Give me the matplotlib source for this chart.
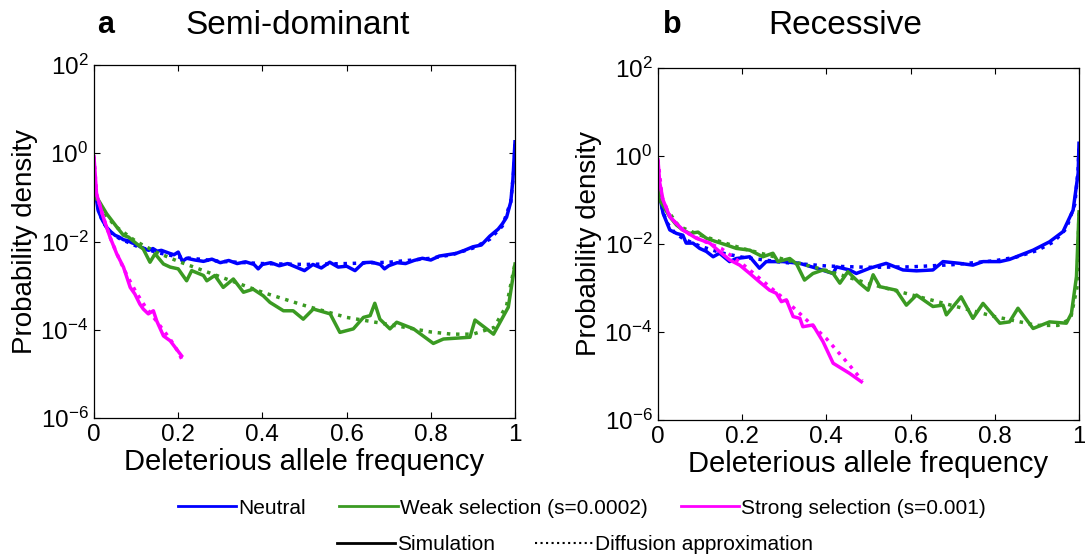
import numpy as np
import matplotlib.pyplot as plt

plt.rcParams['font.family'] = ['Liberation Sans', 'DejaVu Sans']
plt.rcParams['mathtext.fontset'] = 'custom'
plt.rcParams['mathtext.rm'] = 'Liberation Sans'
plt.rcParams['mathtext.it'] = 'Liberation Sans:italic'
plt.rcParams['mathtext.bf'] = 'Liberation Sans:bold'

# ---- data (log10 of probability density) ----
# panel a: semi-dominant
a_neu_x = [0, 0.005, 0.01, 0.02, 0.03, 0.04, 0.05, 0.06, 0.07, 0.08, 0.09, 0.10, 0.11, 0.12,
           0.13, 0.14, 0.15, 0.16, 0.18, 0.19, 0.20, 0.21, 0.22, 0.24, 0.26, 0.28, 0.30, 0.32,
           0.34, 0.36, 0.38, 0.39, 0.40, 0.42, 0.44, 0.46, 0.48, 0.50, 0.52, 0.54, 0.56, 0.58,
           0.60, 0.62, 0.64, 0.66, 0.68, 0.69, 0.70, 0.72, 0.74, 0.76, 0.78, 0.80, 0.82, 0.84,
           0.86, 0.88, 0.90, 0.92, 0.94, 0.96, 0.97, 0.98, 0.99, 0.995, 1.0]
a_neu_y = [-0.5, -1.0, -1.3, -1.52, -1.68, -1.78, -1.86, -1.9, -1.96, -1.98, -2.03, -2.06, -2.12,
           -2.17, -2.2, -2.16, -2.22, -2.2, -2.27, -2.3, -2.24, -2.45, -2.38, -2.42, -2.45, -2.4,
           -2.48, -2.43, -2.5, -2.46, -2.52, -2.62, -2.52, -2.48, -2.55, -2.5, -2.58, -2.66, -2.52,
           -2.6, -2.47, -2.58, -2.56, -2.66, -2.48, -2.47, -2.52, -2.62, -2.55, -2.48, -2.5, -2.43,
           -2.38, -2.42, -2.33, -2.3, -2.27, -2.2, -2.12, -2.08, -1.88, -1.72, -1.6, -1.45, -1.1,
           -0.6, 0.26]
a_neu_dx = [0.002, 0.01, 0.02, 0.04, 0.06, 0.1, 0.15, 0.2, 0.3, 0.4, 0.5, 0.6, 0.7, 0.8, 0.85,
            0.9, 0.94, 0.97, 0.99, 0.998, 1.0]
a_neu_dy = [-0.6, -1.25, -1.55, -1.8, -1.93, -2.1, -2.25, -2.35, -2.45, -2.5, -2.52, -2.5, -2.47,
            -2.38, -2.3, -2.15, -1.95, -1.65, -1.1, -0.3, 0.2]

a_weak_x = [0, 0.006, 0.03, 0.054, 0.07, 0.082, 0.101, 0.117, 0.133, 0.145, 0.165, 0.181, 0.2,
            0.22, 0.232, 0.26, 0.268, 0.287, 0.307, 0.331, 0.355, 0.378, 0.402, 0.418, 0.45,
            0.473, 0.497, 0.521, 0.561, 0.584, 0.616, 0.64, 0.656, 0.667, 0.679, 0.703, 0.719,
            0.759, 0.806, 0.83, 0.893, 0.905, 0.949, 0.984, 1.0]
a_weak_y = [-0.7, -0.99, -1.37, -1.67, -1.86, -1.9, -2.05, -2.17, -2.47, -2.28, -2.51, -2.58,
            -2.62, -2.89, -2.66, -2.77, -2.89, -2.77, -3.04, -2.85, -3.15, -3.08, -3.23, -3.38,
            -3.57, -3.57, -3.76, -3.53, -3.64, -4.06, -3.98, -3.72, -3.68, -3.4, -3.76, -3.98,
            -3.83, -3.98, -4.31, -4.21, -4.17, -3.78, -4.1, -3.49, -2.51]
a_weak_dx = [0.005, 0.02, 0.05, 0.1, 0.15, 0.2, 0.3, 0.4, 0.5, 0.6, 0.7, 0.8, 0.85, 0.9, 0.95,
             0.98, 1.0]
a_weak_dy = [-1.0, -1.3, -1.65, -2.0, -2.25, -2.45, -2.8, -3.15, -3.45, -3.72, -3.88, -4.05,
             -4.1, -4.1, -3.95, -3.45, -2.5]

a_str_x = [0, 0.006, 0.022, 0.038, 0.054, 0.07, 0.086, 0.097, 0.109, 0.117, 0.129, 0.141, 0.149,
           0.165, 0.181, 0.196, 0.208]
a_str_y = [-0.08, -0.92, -1.45, -1.9, -2.28, -2.58, -3.04, -3.19, -3.42, -3.53, -3.64, -3.57,
           -3.8, -4.14, -4.25, -4.44, -4.59]
a_str_dx = [0, 0.006, 0.022, 0.04, 0.06, 0.08, 0.1, 0.12, 0.14, 0.16, 0.18, 0.2, 0.21]
a_str_dy = [-0.08, -0.92, -1.45, -1.95, -2.4, -2.8, -3.15, -3.45, -3.7, -3.95, -4.2, -4.5, -4.7]

# panel b: recessive
b_neu_x = [0, 0.004, 0.012, 0.028, 0.044, 0.059, 0.067, 0.083, 0.099, 0.115, 0.131, 0.146, 0.17,
           0.186, 0.218, 0.241, 0.257, 0.297, 0.337, 0.376, 0.416, 0.424, 0.455, 0.471, 0.503,
           0.542, 0.582, 0.614, 0.653, 0.677, 0.717, 0.748, 0.772, 0.812, 0.835, 0.851, 0.891,
           0.93, 0.962, 0.986, 0.998, 1.0]
b_neu_y = [-0.32, -0.9, -1.3, -1.68, -1.76, -1.8, -1.98, -1.98, -2.1, -2.17, -2.29, -2.21, -2.4,
           -2.33, -2.29, -2.55, -2.4, -2.4, -2.44, -2.55, -2.67, -2.52, -2.59, -2.67, -2.55, -2.44,
           -2.59, -2.61, -2.59, -2.4, -2.44, -2.48, -2.4, -2.4, -2.35, -2.29, -2.14, -1.95, -1.72,
           -1.23, -0.39, 0.29]
b_neu_dx = [0.002, 0.01, 0.02, 0.04, 0.06, 0.1, 0.15, 0.2, 0.3, 0.4, 0.5, 0.6, 0.7, 0.8, 0.85,
            0.9, 0.94, 0.97, 0.99, 0.998, 1.0]
b_neu_dy = [-0.5, -1.2, -1.5, -1.75, -1.88, -2.05, -2.2, -2.3, -2.42, -2.5, -2.53, -2.52, -2.47,
            -2.38, -2.3, -2.15, -1.95, -1.65, -1.1, -0.3, 0.25]

b_weak_x = [0, 0.004, 0.028, 0.044, 0.059, 0.075, 0.095, 0.115, 0.139, 0.162, 0.186, 0.218,
            0.249, 0.273, 0.285, 0.313, 0.329, 0.348, 0.368, 0.392, 0.416, 0.432, 0.451, 0.479,
            0.499, 0.511, 0.527, 0.566, 0.59, 0.614, 0.653, 0.677, 0.685, 0.72, 0.748, 0.772,
            0.812, 0.835, 0.855, 0.891, 0.93, 0.97, 0.982, 0.994, 1.0]
b_weak_y = [-0.6, -1.0, -1.38, -1.57, -1.68, -1.76, -1.73, -1.87, -1.95, -2.02, -2.1, -2.14,
            -2.29, -2.21, -2.4, -2.33, -2.45, -2.82, -2.67, -2.59, -2.67, -2.89, -2.63, -2.89,
            -3.05, -2.7, -2.97, -3.05, -3.39, -3.16, -3.42, -3.39, -3.61, -3.2, -3.69, -3.35,
            -3.8, -3.77, -3.46, -3.92, -3.77, -3.8, -3.58, -2.74, -1.27]
b_weak_dx = [0.005, 0.05, 0.1, 0.2, 0.3, 0.4, 0.5, 0.6, 0.7, 0.8, 0.9, 0.95, 0.98, 0.995, 1.0]
b_weak_dy = [-1.0, -1.6, -1.8, -2.1, -2.35, -2.6, -2.9, -3.15, -3.4, -3.65, -3.85, -3.85, -3.7,
             -3.0, -1.3]

b_str_x = [0, 0.004, 0.012, 0.028, 0.059, 0.091, 0.123, 0.146, 0.17, 0.194, 0.218, 0.241, 0.265,
           0.281, 0.293, 0.305, 0.321, 0.337, 0.344, 0.368, 0.392, 0.416, 0.455, 0.483]
b_str_y = [-0.09, -0.6, -1.0, -1.38, -1.68, -1.87, -1.98, -2.17, -2.36, -2.48, -2.67, -2.86,
           -3.05, -3.12, -3.31, -3.27, -3.65, -3.69, -3.88, -3.84, -4.22, -4.71, -4.94, -5.13]
b_str_dx = [0, 0.01, 0.03, 0.06, 0.1, 0.15, 0.2, 0.25, 0.3, 0.35, 0.4, 0.45, 0.485]
b_str_dy = [-0.09, -0.95, -1.4, -1.7, -1.9, -2.1, -2.45, -2.85, -3.25, -3.7, -4.15, -4.7, -5.1]

y_ticks = [1e-6, 1e-4, 1e-2, 1e0, 1e2]
y_ticklabels = [r'$\mathregular{10^{-6}}$', r'$\mathregular{10^{-4}}$', r'$\mathregular{10^{-2}}$',
                r'$\mathregular{10^{0}}$', r'$\mathregular{10^{2}}$']
x_ticks = [0, 0.2, 0.4, 0.6, 0.8, 1]
x_ticklabels = ['0', '0.2', '0.4', '0.6', '0.8', '1']

blue = '#0000ff'
green = '#3a9a22'
magenta = '#ff00ff'

fig = plt.figure(figsize=(10.85, 5.59), dpi=100)
ax_a = fig.add_axes([94 / 1085, 1 - 418 / 559, 421 / 1085, 353 / 559])
ax_b = fig.add_axes([658 / 1085, 1 - 420 / 559, 421 / 1085, 352 / 559])

panels = [
    (ax_a, [(a_neu_x, a_neu_y, a_neu_dx, a_neu_dy, blue),
            (a_weak_x, a_weak_y, a_weak_dx, a_weak_dy, green),
            (a_str_x, a_str_y, a_str_dx, a_str_dy, magenta)]),
    (ax_b, [(b_neu_x, b_neu_y, b_neu_dx, b_neu_dy, blue),
            (b_weak_x, b_weak_y, b_weak_dx, b_weak_dy, green),
            (b_str_x, b_str_y, b_str_dx, b_str_dy, magenta)]),
]

for ax, series in panels:
    for sx, sy, dx, dy, col in series:
        ax.plot(dx, 10 ** np.array(dy), ':', color=col, lw=2.5)
        ax.plot(sx, 10 ** np.array(sy), '-', color=col, lw=2.5)
    ax.set_yscale('log')
    ax.set_xlim(0, 1)
    ax.set_ylim(1e-6, 1e2)
    ax.set_yticks(y_ticks)
    ax.set_yticklabels(y_ticklabels)
    ax.yaxis.set_minor_locator(plt.NullLocator())
    ax.set_xticks(x_ticks)
    ax.set_xticklabels(x_ticklabels)
    ax.tick_params(direction='in', top=True, right=True, length=4, width=0.8,
                   labelsize=17.5, pad=4)
    ax.set_xlabel('Deleterious allele frequency', fontsize=21, labelpad=2)
    ax.set_ylabel('Probability density', fontsize=20, labelpad=2)
    for sp in ax.spines.values():
        sp.set_linewidth(0.9)

fig.text(298 / 1085, 1 - 25 / 559, 'Semi-dominant', fontsize=24, ha='center', va='center')
fig.text(845 / 1085, 1 - 25 / 559, 'Recessive', fontsize=24, ha='center', va='center')
fig.text(97 / 1085, 1 - 25 / 559, 'a', fontsize=22, fontweight='bold', ha='left', va='center')
fig.text(663 / 1085, 1 - 25 / 559, 'b', fontsize=22, fontweight='bold', ha='left', va='center')

# legends
h1 = [plt.Line2D([], [], color=c, lw=2) for c in (blue, green, magenta)]
leg1 = fig.legend(h1, ['Neutral', 'Weak selection (s=0.0002)', 'Strong selection (s=0.001)'],
                  loc='center', bbox_to_anchor=(582 / 1085, 1 - 508 / 559), ncol=3,
                  frameon=False, fontsize=15, handlelength=2.8, handletextpad=0.1,
                  columnspacing=1.6, borderpad=0)
h2 = [plt.Line2D([], [], color='k', lw=2, ls='-'),
      plt.Line2D([], [], color='k', lw=1.5, ls=':')]
leg2 = fig.legend(h2, ['Simulation', 'Diffusion approximation'],
                  loc='center', bbox_to_anchor=(575 / 1085, 1 - 545 / 559), ncol=2,
                  frameon=False, fontsize=15, handlelength=2.8, handletextpad=0.1,
                  columnspacing=1.9, borderpad=0)

fig.savefig('out.png', dpi=100)
